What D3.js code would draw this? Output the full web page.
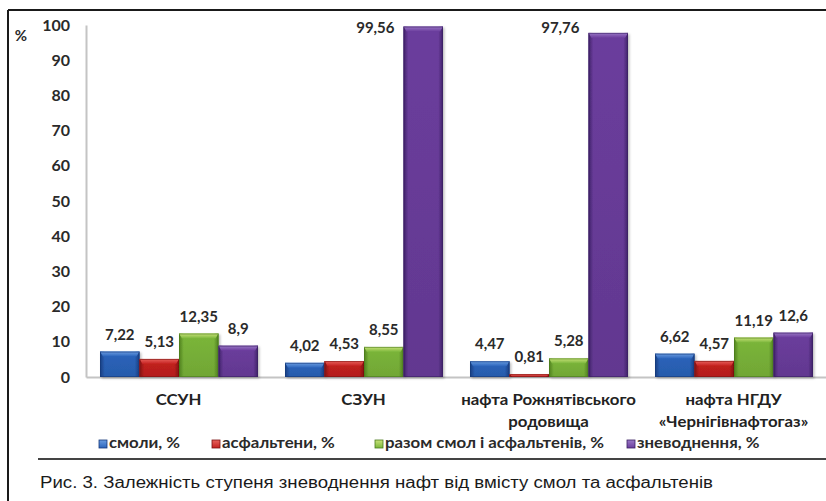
<!DOCTYPE html>
<html>
<head>
<meta charset="utf-8">
<script src="https://cdn.jsdelivr.net/npm/d3@7"></script>
<style>
  html, body { margin: 0; padding: 0; background: #fff; }
  svg { display: block; }
</style>
</head>
<body>
<svg id="chart" width="826" height="501"></svg>
<script>
// Categories (samples of oil / emulsions), each label split into lines
const categories = ["ССУН", "СЗУН", "нафта Рожнятівського родовища", "нафта НГДУ «Чернігівнафтогаз»"];
const categoryLines = [["ССУН"], ["СЗУН"], ["нафта Рожнятівського", "родовища"], ["нафта НГДУ", "«Чернігівнафтогаз»"]];

// Series names and values (%)
const seriesNames = ["смоли, %", "асфальтени, %", "разом смол і асфальтенів, %", "зневоднення, %"];
const resins      = [7.22, 4.02, 4.47, 6.62];
const asphaltenes = [5.13, 4.53, 0.81, 4.57];
const resinsAsph  = [12.35, 8.55, 5.28, 11.19];
const dewatering  = [8.9, 99.56, 97.76, 12.6];
const seriesValues = [resins, asphaltenes, resinsAsph, dewatering];

// Axis ticks
const yTicks = [0, 10, 20, 30, 40, 50, 60, 70, 80, 90, 100];

const captionText = "Рис. 3. Залежність ступеня зневоднення нафт від вмісту смол та асфальтенів";

// Bar palettes: [main, light top, dark edge]
const palette = [
  ["#2b64bb", "#6a9ce0", "#17397a"],
  ["#c4211f", "#e8625c", "#7c1010"],
  ["#7bb63a", "#c9e27a", "#4a7a1c"],
  ["#6b3d9d", "#9a78c6", "#3a1f62"]
];

const svg = d3.select("#chart");
const defs = svg.append("defs");

palette.forEach((p, i) => {
  const gv = defs.append("linearGradient").attr("id", "gv" + i)
    .attr("x1", 0).attr("y1", 0).attr("x2", 0).attr("y2", 1);
  gv.append("stop").attr("offset", "0%").attr("stop-color", p[0]);
  gv.append("stop").attr("offset", "100%").attr("stop-color", d3.color(p[0]).darker(0.25));

  const gh = defs.append("linearGradient").attr("id", "gh" + i)
    .attr("x1", 0).attr("y1", 0).attr("x2", 1).attr("y2", 0);
  gh.append("stop").attr("offset", "0%").attr("stop-color", p[2]).attr("stop-opacity", 0.9);
  gh.append("stop").attr("offset", "12%").attr("stop-color", p[2]).attr("stop-opacity", 0.0);
  gh.append("stop").attr("offset", "88%").attr("stop-color", p[2]).attr("stop-opacity", 0.0);
  gh.append("stop").attr("offset", "100%").attr("stop-color", p[2]).attr("stop-opacity", 0.9);

  const gt = defs.append("linearGradient").attr("id", "gt" + i)
    .attr("x1", 0).attr("y1", 0).attr("x2", 0).attr("y2", 1);
  gt.append("stop").attr("offset", "0%").attr("stop-color", p[1]);
  gt.append("stop").attr("offset", "100%").attr("stop-color", p[0]);
});

const shadow = defs.append("filter").attr("id", "shadow")
  .attr("x", "-10%").attr("y", "-10%").attr("width", "130%").attr("height", "130%");
shadow.append("feDropShadow").attr("dx", 1.5).attr("dy", 1.5).attr("stdDeviation", 1.2)
  .attr("flood-color", "#000").attr("flood-opacity", 0.25);

// Frame lines
svg.append("line").attr("x1", 8).attr("x2", 826).attr("y1", 10).attr("y2", 10)
  .attr("stroke", "#1a1a1a").attr("stroke-width", 2);
svg.append("line").attr("x1", 8).attr("x2", 8).attr("y1", 10).attr("y2", 501)
  .attr("stroke", "#1a1a1a").attr("stroke-width", 2);
svg.append("line").attr("x1", 38).attr("x2", 826).attr("y1", 459).attr("y2", 459)
  .attr("stroke", "#444").attr("stroke-width", 2);

// Scales
const plotLeft = 86, plotRight = 826, plotTop = 25, plotBottom = 377;
const y = d3.scaleLinear().domain([0, 100]).range([plotBottom, plotTop]);
const x0 = d3.scaleBand().domain(categories).range([plotLeft, plotRight]).padding(0);
const groupPad = 14;
const x1 = d3.scaleBand().domain(seriesNames)
  .range([groupPad, x0.bandwidth() - groupPad + 1]).padding(0);

const chartFont = "Lato, 'Open Sans', sans-serif";
const wide = 1.12; // horizontal stretch of the chart's label font

// Y axis
const yAxis = d3.axisLeft(y).tickValues(yTicks).tickSize(0).tickPadding(16);
const yg = svg.append("g").attr("transform", `translate(${plotLeft},0)`).call(yAxis);
yg.select(".domain").attr("stroke", "#c4c4c4").attr("stroke-width", 2);
yg.selectAll("text")
  .attr("font-family", chartFont).attr("font-weight", "bold")
  .attr("font-size", 16).attr("fill", "#2a2a2a");

svg.append("text").attr("x", 21).attr("y", 41).attr("text-anchor", "middle")
  .attr("font-family", chartFont).attr("font-weight", "bold")
  .attr("font-size", 15).attr("fill", "#2a2a2a").text("%");

// X axis
const xAxis = d3.axisBottom(x0).tickSize(0).tickFormat("");
const xg = svg.append("g").attr("transform", `translate(0,${plotBottom})`).call(xAxis);
xg.select(".domain").attr("stroke", "#c4c4c4").attr("stroke-width", 2);

// Category labels
categories.forEach((c, i) => {
  const cx = x0(c) + x0.bandwidth() / 2;
  const t = svg.append("text")
    .attr("transform", `translate(${cx},405) scale(${wide},1)`)
    .attr("text-anchor", "middle")
    .attr("font-family", chartFont).attr("font-weight", "bold")
    .attr("font-size", 15).attr("fill", "#222");
  categoryLines[i].forEach((line, j) => {
    t.append("tspan").attr("x", 0).attr("dy", j === 0 ? 0 : 22).text(line);
  });
});

// Bars
const fmt = v => String(v).replace(".", ",");
const groups = svg.append("g").selectAll("g").data(categories).join("g")
  .attr("transform", c => `translate(${x0(c)},0)`);

groups.each(function (c, ci) {
  const g = d3.select(this);
  seriesNames.forEach((s, si) => {
    const v = seriesValues[si][ci];
    const bx = x1(s), bw = x1.bandwidth();
    const top = y(v), h = y(0) - y(v);
    const bar = g.append("g").attr("filter", "url(#shadow)");
    bar.append("rect").attr("x", bx).attr("y", top).attr("width", bw).attr("height", h)
      .attr("fill", `url(#gv${si})`);
    bar.append("rect").attr("x", bx).attr("y", top).attr("width", bw).attr("height", h)
      .attr("fill", `url(#gh${si})`);
    const bevel = Math.min(5, h);
    bar.append("path")
      .attr("d", `M${bx},${top} L${bx + bw},${top} L${bx + bw - 3},${top + bevel} L${bx + 3},${top + bevel} Z`)
      .attr("fill", `url(#gt${si})`);
    bar.append("rect").attr("x", bx + 0.5).attr("y", top + 0.5)
      .attr("width", bw - 1).attr("height", Math.max(0, h - 1))
      .attr("fill", "none").attr("stroke", palette[si][2]).attr("stroke-opacity", 0.6)
      .attr("stroke-width", 1);

    // Value label: above the bar, or beside it when the bar reaches the top
    const label = g.append("text")
      .attr("font-family", chartFont).attr("font-weight", "bold")
      .attr("font-size", 15).attr("fill", "#2a2a2a").text(fmt(v));
    if (v > 90) {
      label.attr("x", bx - 9).attr("y", y(100) + 8).attr("text-anchor", "end");
    } else {
      label.attr("x", bx + bw / 2).attr("y", top - 12).attr("text-anchor", "middle");
    }
  });
});

// Legend
const legendX = [99, 212, 375, 627];
const legend = svg.append("g");
seriesNames.forEach((s, i) => {
  const lg = legend.append("g").attr("transform", `translate(${legendX[i]},440)`);
  lg.append("rect").attr("width", 8).attr("height", 8).attr("fill", `url(#gt${i})`)
    .attr("stroke", palette[i][2]).attr("stroke-width", 0.8);
  lg.append("text").attr("transform", `translate(10,8) scale(${wide},1)`)
    .attr("font-family", chartFont).attr("font-weight", "bold")
    .attr("font-size", 15).attr("fill", "#2a2a2a").text(s);
});

// Caption
svg.append("text").attr("x", 40).attr("y", 488)
  .attr("font-family", "'Liberation Sans', Arial, sans-serif")
  .attr("font-size", 16).attr("fill", "#1a1a1a")
  .attr("textLength", 673).attr("lengthAdjust", "spacingAndGlyphs")
  .text(captionText);
</script>
</body>
</html>
